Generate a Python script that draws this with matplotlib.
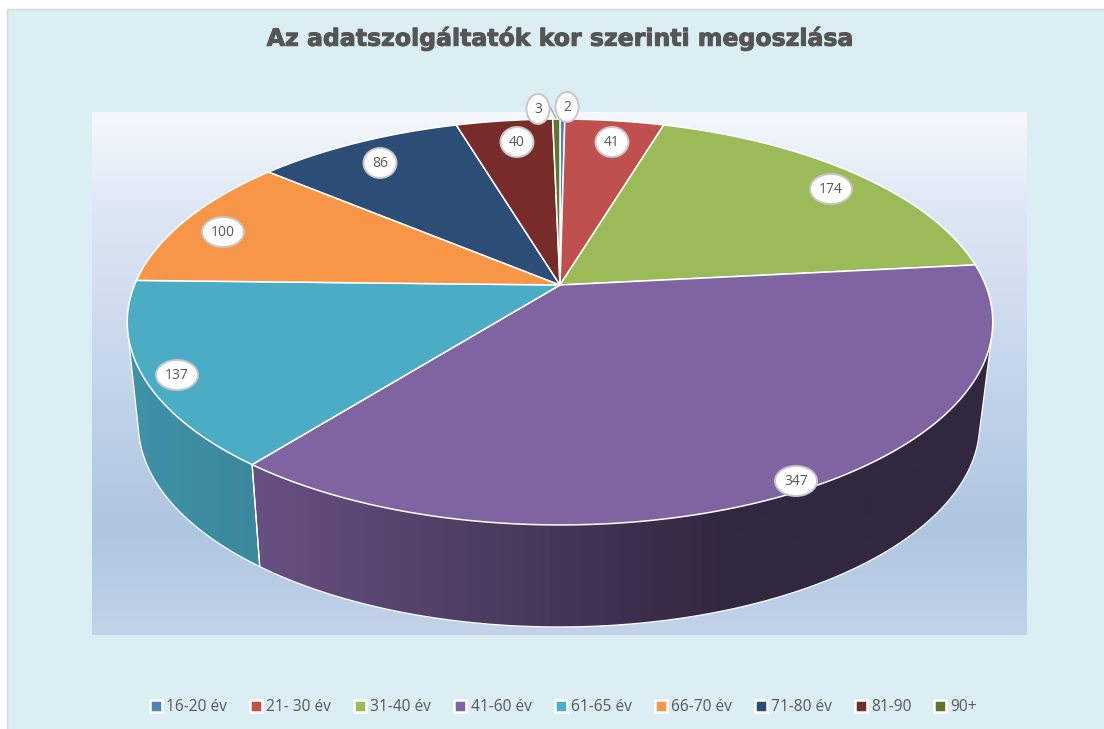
import numpy as np
import matplotlib
matplotlib.use("Agg")
import matplotlib.pyplot as plt
import matplotlib.patheffects as pe
from matplotlib.patches import Ellipse, Polygon, Rectangle
from matplotlib.lines import Line2D
from matplotlib.colors import to_rgb, LinearSegmentedColormap

categories = ["16-20 év", "21- 30 év", "31-40 év", "41-60 év", "61-65 év",
              "66-70 év", "71-80 év", "81-90", "90+"]
values = [2, 41, 174, 347, 137, 100, 86, 40, 3]
colors = ["#4F81BD", "#C0504D", "#9BBB59", "#8064A2", "#4BACC6",
          "#F79646", "#2C4D75", "#772C2A", "#5F7530"]
title = "Az adatszolgáltatók kor szerinti megoszlása"

label_pos = [(567, 107), (612, 142), (831, 189), (796, 481), (177, 375),
             (223, 232), (380, 163), (517, 142), (538, 109)]

W, H = 1104, 729
fig = plt.figure(figsize=(W / 100, H / 100), dpi=100, facecolor="white")
ax = fig.add_axes([0, 0, 1, 1])
ax.axis("off")
ax.set_autoscale_on(False)
ax.set_xlim(0, W)
ax.set_ylim(H, 0)

ax.add_patch(Rectangle((6.5, 8.5), W, H, fc="#DBEEF4", ec="#D9D9D9", lw=1, zorder=0))

cmap = LinearSegmentedColormap.from_list(
    "pa", [(0, "#F5F8FD"), (0.2, "#DCE6F3"), (0.8, "#AEC5E1"), (1, "#C3D3E9")])
ax.imshow(np.linspace(0, 1, 256)[:, None], cmap=cmap, aspect="auto",
          extent=(92, 1027, 635, 112), zorder=1)

CX, CY = 560.0, 285.0
A, B, K = 425.5, 196.2, 0.1823
BOT_Y = 387.0
BOT_X = 0.972


def top(theta):
    u, v = np.sin(theta), np.cos(theta)
    w = 1 + K * v
    return CX + A * u / w, CY - B * v / w


def bottom(theta):
    u, v = np.sin(theta), np.cos(theta)
    w = 1 + K * v
    return CX - 1 + BOT_X * A * u / w, BOT_Y - B * v / w


def hull(points):
    pts = sorted(set(map(tuple, points)))

    def half(seq):
        out = []
        for p in seq:
            while len(out) > 1 and ((out[-1][0] - out[-2][0]) * (p[1] - out[-2][1])
                                    - (out[-1][1] - out[-2][1]) * (p[0] - out[-2][0])) <= 0:
                out.pop()
            out.append(p)
        return out[:-1]

    return np.array(half(pts) + half(pts[::-1]))


edges = np.radians(np.concatenate([[0], np.cumsum(values)]) / np.sum(values) * 360)

# side wall: each visible slice is the hull of its top and bottom arcs, filled with a shade ramp
xs = np.linspace(100, 1020, 921)
for i, (a0, a1) in enumerate(zip(edges[:-1], edges[1:])):
    lo, hi = max(a0, np.pi * 0.4), min(a1, np.pi * 1.6)
    if hi <= lo:
        continue
    th = np.linspace(lo, hi, 400)
    pts = np.vstack([np.column_stack(top(th)), np.column_stack(bottom(th))])
    poly = hull(pts)
    base = np.array(to_rgb(colors[i]))
    if i == 4:
        f = np.interp(xs, [130, 260], [0.85, 0.79])
    else:
        f = np.interp(xs, [130, 260, 730, 990], [0.85, 0.8, 0.39, 0.39])
    img = (base[None, :] * f[:, None])[None, :, :]
    patch = Polygon(poly, closed=True, fc="none", ec="white", lw=0.9, zorder=3)
    ax.add_patch(patch)
    im = ax.imshow(img, aspect="auto", extent=(100, 1020, 640, 240), zorder=2)
    im.set_clip_path(patch)

# top face
for i, (a0, a1) in enumerate(zip(edges[:-1], edges[1:])):
    th = np.linspace(a0, a1, max(int(np.degrees(a1 - a0) * 2), 3))
    x, y = top(th)
    pts = np.column_stack([np.r_[CX, x], np.r_[CY, y]])
    ax.add_patch(Polygon(pts, closed=True, fc=colors[i], ec="white", lw=1.1, zorder=4, joinstyle="round"))

# leader line for the smallest neighbour label
ax.plot([548, 556], [103, 118], color="#A6A6A6", lw=0.9, zorder=5)

# data labels
for val, (lx, ly) in zip(values, label_pos):
    s = str(val)
    wd = {1: 23, 2: 33, 3: 42}[len(s)]
    ax.add_patch(Ellipse((lx, ly), wd, 30, fc="white", ec="#C8C8C8", lw=1.4, zorder=6))
    ax.text(lx, ly + 0.5, s, ha="center", va="center", fontsize=10, color="#595959",
            family="Open Sans", zorder=7)

# title
ax.text(560, 38, title, ha="center", va="center", fontsize=17, fontweight="bold",
        color="#555555", family="DejaVu Sans", zorder=7,
        path_effects=[pe.withStroke(linewidth=0.7, foreground="#555555")])

# legend
handles = [Line2D([], [], ls="none", marker="s", ms=8, mfc=c, mec="white", mew=1.8) for c in colors]
ax.legend(handles, categories, loc="center", bbox_to_anchor=(0.5115, 0.03), ncols=9,
          frameon=False, handlelength=0.5, handletextpad=0.4, columnspacing=1.62,
          prop={"family": "Open Sans", "size": 11.2}, labelcolor="#595959", borderpad=0)

ax.set_xlim(0, W)
ax.set_ylim(H, 0)
fig.savefig("out.png", dpi=100, facecolor="white")
